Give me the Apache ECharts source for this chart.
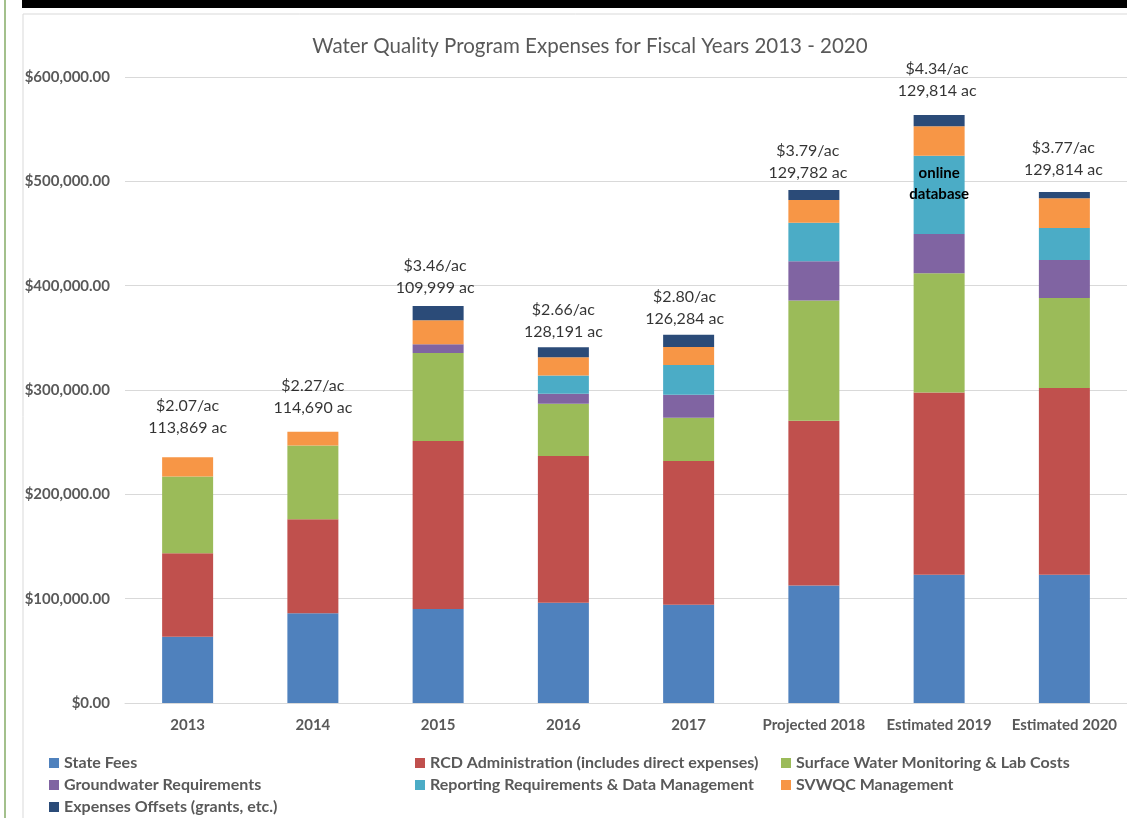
<!DOCTYPE html>
<html>
<head>
<meta charset="utf-8">
<script src="https://cdn.jsdelivr.net/npm/echarts@6/dist/echarts.min.js"></script>
<style>
  html, body { margin: 0; padding: 0; background: #fff; }
  #chart { width: 1127px; height: 818px; }
</style>
</head>
<body>
<div id="chart"></div>
<script>
// ---- data ----
const categories = ['2013', '2014', '2015', '2016', '2017', 'Projected 2018', 'Estimated 2019', 'Estimated 2020'];
const seriesNames = [
  'State Fees',
  'RCD Administration (includes direct expenses)',
  'Surface Water Monitoring & Lab Costs',
  'Groundwater Requirements',
  'Reporting Requirements & Data Management',
  'SVWQC Management',
  'Expenses Offsets (grants, etc.)'
];
const stateFees    = [63500, 86000, 90100, 96200, 94200, 112700, 123000, 123000];
const rcdAdmin     = [80000, 90100, 161000, 140600, 137700, 157900, 174600, 179000];
const surfaceWater = [73500, 70600, 84400, 50100, 41500, 115100, 114300, 86100];
const groundwater  = [0, 0, 8300, 9600, 22000, 37700, 37700, 36500];
const reporting    = [0, 0, 0, 17300, 28500, 36900, 75000, 30600];
const svwqc        = [18600, 13400, 23000, 17600, 17300, 21800, 28200, 28500];
const offsets      = [0, 0, 13700, 9600, 11800, 9600, 10700, 6000];
const perAcre = ['$2.07/ac', '$2.27/ac', '$3.46/ac', '$2.66/ac', '$2.80/ac', '$3.79/ac', '$4.34/ac', '$3.77/ac'];
const acres   = ['113,869 ac', '114,690 ac', '109,999 ac', '128,191 ac', '126,284 ac', '129,782 ac', '129,814 ac', '129,814 ac'];
const yTicks = { min: 0, max: 600000, interval: 100000 };
const noteIndex = 6;
const noteText = 'online\ndatabase';

// ---- styling / layout ----
const colors = ['#4f81bd', '#c0504d', '#9bbb59', '#8064a2', '#4bacc6', '#f79646', '#2b4b78'];
const FONT = 'Lato';
const GREY = '#595959';
// per-label nudges [dx, extra lift] to mimic hand-placed text boxes
const labelNudge = [[0, 18], [0, 12], [-3, 7], [0, 4], [-4, 4], [-6, 6], [-2, 13], [-1, 11]];

const allValues = [stateFees, rcdAdmin, surfaceWater, groundwater, reporting, svwqc, offsets];
const totals = categories.map((_, i) => allValues.reduce((s, arr) => s + arr[i], 0));

const barSeries = allValues.map((arr, k) => ({
  name: seriesNames[k],
  type: 'bar',
  stack: 'total',
  barWidth: 51,
  itemStyle: { color: colors[k] },
  emphasis: { disabled: true },
  data: arr.map((v, i) => {
    if (k === 4 && i === noteIndex) {
      return {
        value: v,
        label: {
          show: true, position: 'insideTop', distance: 7,
          formatter: noteText, color: '#000', fontFamily: FONT,
          fontWeight: 'bold', fontSize: 15, lineHeight: 21
        }
      };
    }
    return v;
  })
}));

const labelSeries = {
  name: 'labels',
  type: 'scatter',
  symbolSize: 1,
  itemStyle: { color: 'rgba(0,0,0,0)' },
  z: 10,
  silent: true,
  data: totals.map((t, i) => ({
    value: t,
    label: {
      show: true,
      position: 'top',
      distance: labelNudge[i][1],
      offset: [labelNudge[i][0], 0],
      formatter: perAcre[i] + '\n' + acres[i],
      color: '#000', fontFamily: FONT, fontSize: 16, lineHeight: 22
    }
  }))
};

const legendText = { color: GREY, fontFamily: FONT, fontWeight: 'bold', fontSize: 16, lineHeight: 16 };
function legendCol(left, names) {
  return {
    orient: 'vertical', left: left, top: 755, itemGap: 6,
    itemWidth: 10, itemHeight: 10, icon: 'rect', padding: 0,
    textStyle: legendText, selectedMode: false, data: names
  };
}

const option = {
  backgroundColor: '#fff',
  animation: false,
  title: {
    text: 'Water Quality Program Expenses for Fiscal Years 2013 - 2020',
    left: 585, top: 31, textAlign: 'center',
    textStyle: { color: GREY, fontFamily: FONT, fontWeight: 'normal', fontSize: 20.5 }
  },
  graphic: [
    { type: 'rect', shape: { x: 23, y: 14, width: 1120, height: 820 }, style: { fill: 'none', stroke: '#d9d9d9', lineWidth: 1 }, z: -1 },
    { type: 'rect', shape: { x: 22, y: 0, width: 1110, height: 8 }, style: { fill: '#000' } },
    { type: 'rect', shape: { x: 4, y: 0, width: 2, height: 818 }, style: { fill: '#a3c08c' } }
  ],
  legend: [
    legendCol(49, [seriesNames[0], seriesNames[3], seriesNames[6]]),
    legendCol(415, [seriesNames[1], seriesNames[4]]),
    legendCol(781, [seriesNames[2], seriesNames[5]])
  ],
  grid: { left: 125, right: -3, top: 77, bottom: 115, containLabel: false },
  xAxis: {
    type: 'category',
    data: categories,
    axisLine: { lineStyle: { color: '#d9d9d9', width: 1 } },
    axisTick: { show: false },
    axisLabel: { color: GREY, fontFamily: FONT, fontWeight: 'bold', fontSize: 15, margin: 15, interval: 0 }
  },
  yAxis: {
    type: 'value',
    min: yTicks.min, max: yTicks.max, interval: yTicks.interval,
    axisLine: { show: false },
    axisTick: { show: false },
    splitLine: { lineStyle: { color: '#d9d9d9', width: 1 } },
    axisLabel: {
      color: GREY, fontFamily: FONT, fontWeight: 'bold', fontSize: 15, margin: 15,
      formatter: v => '$' + v.toLocaleString('en-US', { minimumFractionDigits: 2, maximumFractionDigits: 2 })
    }
  },
  series: barSeries.concat([labelSeries])
};

const chart = echarts.init(document.getElementById('chart'), null, { renderer: 'canvas' });
chart.setOption(option);
</script>
</body>
</html>
